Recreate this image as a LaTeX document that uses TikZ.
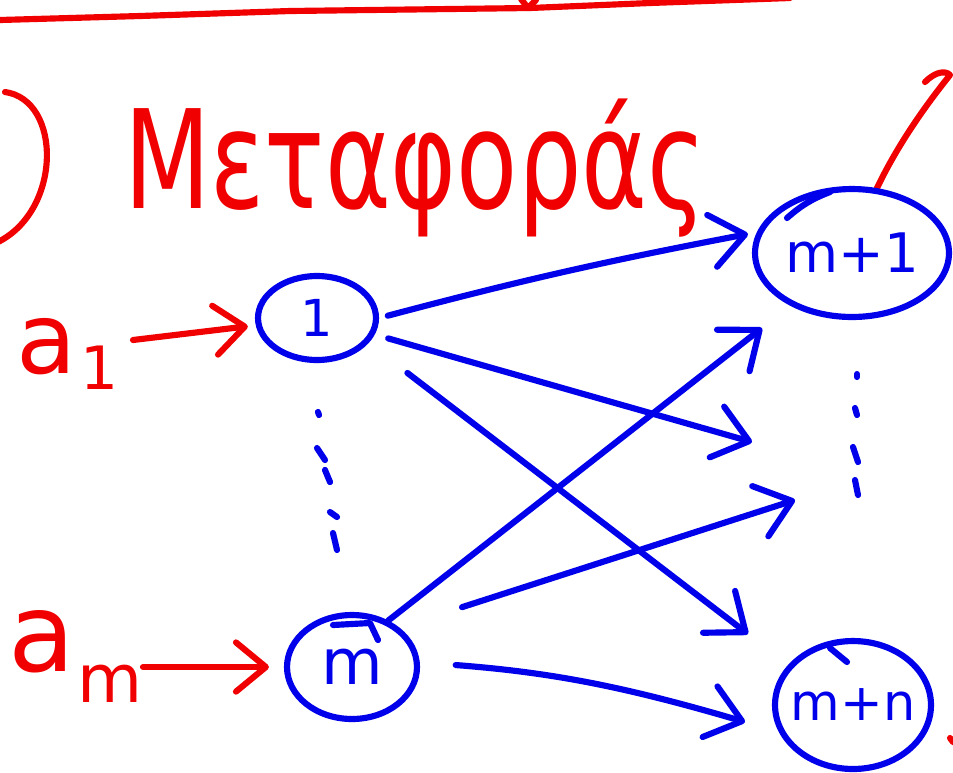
\documentclass[tikz,border=0pt]{standalone}
\usepackage{fontspec}
\setmainfont{DejaVu Sans}
\usetikzlibrary{arrows.meta,shapes.geometric}
\definecolor{inkblue}{RGB}{0,0,235}
\definecolor{inkred}{RGB}{240,0,0}
\newcommand\fsz[1]{\fontsize{#1}{#1}\selectfont}

\begin{document}
\begin{tikzpicture}[x=0.02cm,y=-0.02cm,
  ink/.style={line width=3.5pt,line cap=round,line join=round},
  bink/.style={ink,draw=inkblue},
  rink/.style={ink,draw=inkred},
  state/.style={bink,ellipse,inner sep=0pt,text=inkblue},
  barrow/.style={bink,-{Straight Barb[length=19pt,width=30pt,round]}},
  rarrow/.style={rink,-{Straight Barb[length=17pt,width=28pt,round]}},
  lbl/.style={text=inkred,inner sep=0pt},
]
\useasboundingbox (0,0) rectangle (953,772);

% red rule along the top with its small tick
\draw[rink] (0,20) -- (140,16) -- (290,11) -- (530,8) -- (650,3) -- (790,-2);
\draw[rink] (521,-1) -- (528,8) -- (536,0);

% section bracket and heading
\draw[rink] (5,92) .. controls (62,100) and (62,210) .. (-2,242);
\node[lbl,anchor=base west,font=\fsz{78pt}] (title) at (124,208) {\scalebox{0.73}[1]{Μεταφοράς}};
\draw[rink] (877,188) .. controls (900,140) and (930,100) .. (950,75)
  .. controls (945,70) and (935,72) .. (925,82);
\draw[rink] (950,738) -- (953,742);

% the four nodes
\node[state,minimum width=2.36cm,minimum height=1.68cm,font=\fsz{29pt}] (n1) at (317,318) {\makebox[0pt]{1}};
\node[state,minimum width=2.6cm,minimum height=2.08cm,font=\fsz{36pt}] (nm) at (352,667) {\makebox[0pt]{m}};
\node[state,minimum width=3.88cm,minimum height=2.56cm,font=\fsz{31pt}] (nm1) at (852,253) {\makebox[0pt]{m+1}};
\node[state,minimum width=3.12cm,minimum height=2.56cm,font=\fsz{29pt}] (nmn) at (853,705) {\makebox[0pt]{m+n}};

% pen strokes retraced over the circles
\draw[bink] (787,218) to[bend left=10] (830,192);
\draw[bink] (333,625) -- (370,623) -- (378,640);
\draw[bink] (830,648) -- (847,662);

% vertical ellipses
\draw[bink] (318,412) -- (319,415);
\draw[bink] (317,448) -- (325,460);
\draw[bink] (325,470) -- (330,482);
\draw[bink] (330,512) -- (337,517);
\draw[bink] (333,533) -- (337,550);
\draw[bink] (857,374) -- (857,377);
\draw[bink] (855,408) -- (857,415);
\draw[bink] (853,447) -- (858,462);
\draw[bink] (855,480) -- (858,495);

% inputs
\node[lbl,font=\fsz{56pt}] (a1) at (47,347) {a};
\node[lbl,font=\fsz{34pt}] (s1) at (100,368) {1};
\node[lbl,font=\fsz{62pt}] (am) at (42,642) {a};
\node[lbl,font=\fsz{38pt}] (sm) at (110,684) {m};
\coordinate (a1out) at (133,340);
\coordinate (amout) at (143,667);
\draw[rarrow,shorten >=0.16cm] (a1out) -- (n1);
\draw[rarrow,shorten >=0.3cm] (amout) -- (nm);

% outgoing arrows
\coordinate (e1) at (748,234);
\coordinate (e2) at (752,442);
\coordinate (e3) at (748,634);
\coordinate (e4) at (762,328);
\coordinate (e5) at (795,500);
\coordinate (e6) at (745,722);
\draw[barrow,shorten <=0.18cm] (n1.east) to[bend left=2] (e1);
\draw[barrow,shorten <=0.28cm] (n1.-16) -- (e2);
\draw[barrow,shorten <=0.98cm] (n1.-26) -- (e3);
\draw[barrow] (nm.52) -- (e4);
\draw[barrow,shorten <=1.32cm] (nm.40) -- (e5);
\draw[barrow,shorten <=0.72cm] (nm.4) to[bend left=6] (e6);
\end{tikzpicture}
\end{document}
